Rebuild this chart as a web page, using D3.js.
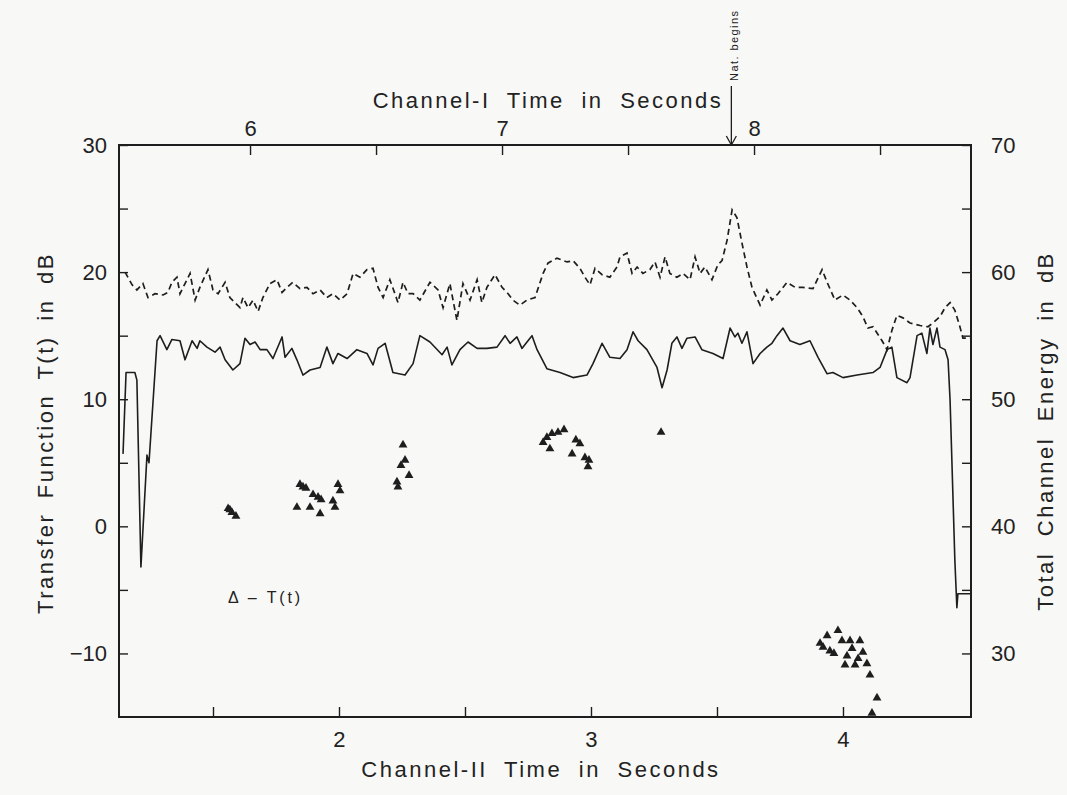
<!DOCTYPE html>
<html>
<head>
<meta charset="utf-8">
<script src="https://cdn.jsdelivr.net/npm/d3@7"></script>
<style>
  body { margin: 0; background: #f8f8f6; }
  svg { display: block; }
  text { font-family: "Liberation Sans", "DejaVu Sans", sans-serif; fill: #222; }
</style>
</head>
<body>
<div id="chart"></div>
<script>
// Channel-II time (s) vs total channel energy (dB), solid trace
var solidEnergy = [
  [1.143,45.7],[1.155,52.1],[1.190,52.1],[1.198,51.5],[1.214,36.8],[1.238,45.6],[1.246,45.0],
  [1.278,54.6],[1.290,55.0],[1.317,53.9],[1.337,54.7],[1.369,54.6],[1.389,53.1],[1.417,54.6],
  [1.437,54.0],[1.448,54.6],[1.476,54.1],[1.508,53.7],[1.528,54.1],[1.548,53.1],[1.579,52.3],
  [1.607,52.8],[1.627,54.8],[1.647,54.3],[1.667,54.5],[1.687,53.9],[1.714,53.9],[1.738,53.2],
  [1.774,54.9],[1.786,53.3],[1.813,54.0],[1.833,53.1],[1.857,51.9],[1.885,52.3],[1.925,52.5],
  [1.952,54.1],[1.976,52.8],[1.996,53.6],[2.032,53.2],[2.071,53.9],[2.111,53.6],[2.135,52.7],
  [2.155,54.0],[2.183,54.4],[2.214,52.1],[2.262,51.9],[2.294,52.8],[2.321,55.0],[2.361,54.5],
  [2.409,53.5],[2.429,54.1],[2.448,52.7],[2.480,53.9],[2.512,54.5],[2.548,54.0],[2.587,54.0],
  [2.627,54.1],[2.659,55.0],[2.679,54.4],[2.706,54.9],[2.726,54.0],[2.750,54.6],[2.766,55.0],
  [2.786,53.9],[2.825,52.4],[2.877,52.1],[2.929,51.7],[2.984,51.9],[3.008,52.8],[3.044,54.4],
  [3.075,53.3],[3.115,53.2],[3.143,53.9],[3.167,55.3],[3.187,54.6],[3.222,53.9],[3.262,52.5],
  [3.282,50.9],[3.302,52.3],[3.321,54.4],[3.341,54.9],[3.361,54.0],[3.381,54.8],[3.413,54.9],
  [3.440,53.9],[3.484,53.6],[3.524,53.2],[3.552,55.6],[3.571,54.9],[3.583,55.2],[3.599,54.4],
  [3.619,55.3],[3.643,52.8],[3.671,53.6],[3.698,54.1],[3.718,54.4],[3.738,55.0],[3.762,55.6],
  [3.790,54.6],[3.829,54.3],[3.869,54.6],[3.901,53.3],[3.937,52.0],[3.960,52.1],[4.000,51.7],
  [4.056,51.9],[4.119,52.1],[4.147,52.5],[4.175,53.9],[4.194,54.1],[4.214,51.7],[4.254,51.3],
  [4.266,51.7],[4.294,55.0],[4.313,55.2],[4.333,53.6],[4.345,55.6],[4.357,54.3],[4.373,55.6],
  [4.385,54.1],[4.405,53.9],[4.417,53.1],[4.425,49.9],[4.444,37.3],[4.452,33.6],[4.456,34.7],
  [4.504,34.7]
];

// Channel-II time (s) vs total channel energy (dB), dashed trace
var dashedEnergy = [
  [1.151,60.0],[1.179,59.0],[1.198,58.6],[1.222,59.1],[1.242,58.0],[1.270,58.3],[1.302,58.2],
  [1.321,58.4],[1.337,59.2],[1.357,59.6],[1.369,58.3],[1.389,59.1],[1.409,59.9],[1.429,57.8],
  [1.448,58.8],[1.480,60.2],[1.500,58.6],[1.520,58.3],[1.548,59.2],[1.567,58.0],[1.587,57.6],
  [1.607,57.2],[1.619,58.0],[1.639,57.2],[1.659,57.8],[1.679,56.9],[1.698,58.0],[1.726,59.1],
  [1.754,59.4],[1.774,58.4],[1.794,58.8],[1.817,59.2],[1.845,58.7],[1.873,58.8],[1.897,58.3],
  [1.925,58.6],[1.952,58.0],[1.976,58.3],[2.004,57.8],[2.032,58.3],[2.056,59.9],[2.083,59.6],
  [2.111,60.2],[2.135,60.3],[2.155,58.8],[2.175,58.0],[2.202,59.4],[2.222,58.3],[2.234,57.6],
  [2.254,59.2],[2.274,58.3],[2.294,58.3],[2.321,57.8],[2.361,59.2],[2.393,58.6],[2.413,57.2],
  [2.440,59.1],[2.468,56.2],[2.492,59.1],[2.520,57.8],[2.548,59.4],[2.567,57.6],[2.587,58.8],
  [2.619,59.8],[2.647,58.8],[2.671,58.3],[2.690,57.8],[2.718,57.4],[2.746,57.8],[2.778,58.0],
  [2.810,59.9],[2.829,60.7],[2.865,61.1],[2.905,60.8],[2.929,60.9],[2.956,60.3],[2.976,59.6],
  [2.996,59.0],[3.016,60.3],[3.044,59.8],[3.075,59.6],[3.103,60.4],[3.115,61.2],[3.143,61.5],
  [3.163,59.9],[3.183,60.4],[3.206,59.9],[3.234,60.2],[3.254,60.8],[3.274,59.6],[3.294,61.2],
  [3.313,59.9],[3.341,59.6],[3.365,59.9],[3.393,59.4],[3.413,61.2],[3.433,59.9],[3.452,60.4],
  [3.480,59.4],[3.504,60.6],[3.520,60.9],[3.540,62.5],[3.560,64.9],[3.579,64.3],[3.599,62.3],
  [3.619,60.4],[3.639,58.8],[3.671,57.4],[3.698,58.6],[3.718,57.8],[3.742,58.3],[3.778,59.2],
  [3.810,58.8],[3.841,58.8],[3.881,58.7],[3.917,60.2],[3.937,59.2],[3.968,57.8],[4.000,58.2],
  [4.028,57.8],[4.056,57.2],[4.079,56.5],[4.099,55.6],[4.119,55.7],[4.155,54.6],[4.175,53.9],
  [4.194,55.4],[4.214,56.6],[4.238,56.4],[4.266,56.0],[4.306,55.8],[4.337,55.7],[4.357,56.0],
  [4.385,56.5],[4.405,57.2],[4.425,57.6],[4.444,57.0],[4.464,55.7],[4.476,54.8],[4.504,54.8]
];

// Channel-II time (s) vs transfer function T(t) (dB), triangles
var transferT = [
  [1.560,1.4],[1.567,1.3],[1.575,1.1],[1.591,0.8],
  [1.845,3.3],[1.857,3.1],[1.869,3.0],[1.833,1.5],[1.885,1.5],[1.897,2.5],[1.917,2.3],
  [1.929,2.1],[1.925,1.0],[1.976,2.0],[1.984,1.5],[1.996,3.3],[2.004,2.8],
  [2.254,6.4],[2.262,5.2],[2.246,4.8],[2.278,4.0],[2.230,3.5],[2.234,3.1],
  [2.810,6.6],[2.825,7.0],[2.845,7.3],[2.869,7.4],[2.893,7.6],[2.837,6.1],[2.940,6.8],
  [2.956,6.5],[2.925,5.7],[2.976,5.4],[2.992,5.2],[2.988,4.7],
  [3.278,7.4],
  [3.937,-8.6],[3.909,-9.2],[3.921,-9.5],[3.948,-9.8],[3.964,-10.0],[3.980,-8.2],[3.996,-9.0],
  [4.028,-9.0],[4.067,-9.0],[4.036,-9.6],[4.016,-10.2],[4.008,-10.9],[4.048,-10.9],[4.060,-10.4],
  [4.079,-9.9],[4.095,-10.8],[4.107,-11.7],[4.135,-13.5],[4.115,-14.7]
];

var bottomDomain = [1.127, 4.508];
var channelOffset = 4.353;          // Channel-I time = Channel-II time + offset
var leftDomain = [-15, 30];
var rightDomain = [25, 70];
var bottomTicks = [1.5, 2, 2.5, 3, 3.5, 4];
var topTicks = [6, 6.5, 7, 7.5, 8, 8.5];
var leftTicks = [-10, -5, 0, 5, 10, 15, 20, 25];
var rightTicks = [30, 35, 40, 45, 50, 55, 60, 65];
var natBegins = 7.91;   // Channel-I time where "Nat. begins"

var width = 1067, height = 795;
var margin = {left: 119, right: 1067 - 971, top: 145, bottom: 795 - 717};
var W = width - margin.left - margin.right, H = height - margin.top - margin.bottom;

var svg = d3.select("#chart").append("svg")
  .attr("width", width).attr("height", height);

var g = svg.append("g").attr("transform", "translate(" + margin.left + "," + margin.top + ")");

var x = d3.scaleLinear().domain(bottomDomain).range([0, W]);
var xTop = d3.scaleLinear().domain([bottomDomain[0] + channelOffset, bottomDomain[1] + channelOffset]).range([0, W]);
var yL = d3.scaleLinear().domain(leftDomain).range([H, 0]);
var yR = d3.scaleLinear().domain(rightDomain).range([H, 0]);

var ink = "#1e1e1e";

function styleAxis(sel) {
  sel.select(".domain").remove();
  sel.selectAll(".tick line").attr("stroke", ink).attr("stroke-width", 1.4);
  sel.selectAll(".tick text").style("font-size", "22px").attr("fill", ink);
}

function labelEvery(step) {
  return function(d) { return Math.abs(d % step) < 1e-9 ? d3.format("d")(d).replace("-", "\u2212") : ""; };
}

g.append("g").attr("transform", "translate(0," + H + ")")
  .call(d3.axisBottom(x).tickValues(bottomTicks).tickSize(-10).tickPadding(14).tickFormat(labelEvery(1)))
  .call(styleAxis);

g.append("g")
  .call(d3.axisTop(xTop).tickValues(topTicks).tickSize(-10).tickPadding(9).tickFormat(labelEvery(1)))
  .call(styleAxis);

g.append("g")
  .call(d3.axisLeft(yL).tickValues(leftTicks.concat([30])).tickSize(-9).tickPadding(12).tickFormat(labelEvery(10)))
  .call(styleAxis);

g.append("g").attr("transform", "translate(" + W + ",0)")
  .call(d3.axisRight(yR).tickValues(rightTicks.concat([70])).tickSize(-9).tickPadding(20).tickFormat(labelEvery(10)))
  .call(styleAxis);

// frame
g.append("rect").attr("width", W).attr("height", H)
  .attr("fill", "none").attr("stroke", ink).attr("stroke-width", 2);

var lineR = d3.line()
  .x(function(d) { return x(d[0]); })
  .y(function(d) { return yR(d[1]); });

g.append("path").datum(dashedEnergy)
  .attr("d", lineR).attr("fill", "none")
  .attr("stroke", ink).attr("stroke-width", 1.7)
  .attr("stroke-dasharray", "6,4");

g.append("path").datum(solidEnergy)
  .attr("d", lineR).attr("fill", "none")
  .attr("stroke", ink).attr("stroke-width", 1.6)
  .attr("stroke-linejoin", "round");

g.selectAll("path.tri").data(transferT).enter().append("path")
  .attr("class", "tri")
  .attr("d", d3.symbol().type(d3.symbolTriangle).size(34))
  .attr("transform", function(d) { return "translate(" + x(d[0]) + "," + yL(d[1]) + ")"; })
  .attr("fill", ink);

// legend
g.append("text").attr("x", 228 - margin.left).attr("y", yL(-5.6))
  .attr("dy", "0.35em").style("font-size", "16px")
  .attr("textLength", 72).attr("lengthAdjust", "spacing")
  .text("\u0394 \u2013 T(t)");

// axis titles
function title(sel, ws) {
  sel.attr("text-anchor", "middle").attr("dy", "0.35em")
    .style("font-size", "22px").style("letter-spacing", "2.5px")
    .style("word-spacing", ws + "px");
}

svg.append("text").attr("x", 548).attr("y", 100)
  .call(title, 8).text("Channel-I Time in Seconds");

svg.append("text").attr("x", 541).attr("y", 769)
  .call(title, 8).text("Channel-II Time in Seconds");

svg.append("text").attr("transform", "translate(45,433) rotate(-90)")
  .call(title, 6).text("Transfer Function T(t) in dB");

svg.append("text").attr("transform", "translate(1045,431) rotate(-90)")
  .call(title, 7).text("Total Channel Energy in dB");

// "Nat. begins" arrow
var ax = margin.left + xTop(natBegins);
svg.append("line").attr("x1", ax).attr("x2", ax).attr("y1", 86).attr("y2", margin.top)
  .attr("stroke", ink).attr("stroke-width", 1.3);
svg.append("path")
  .attr("d", "M" + (ax - 5) + "," + (margin.top - 9) + "L" + ax + "," + margin.top + "L" + (ax + 5) + "," + (margin.top - 9))
  .attr("fill", "none").attr("stroke", ink).attr("stroke-width", 1.3);
svg.append("text").attr("transform", "translate(" + (ax + 3) + ",46) rotate(-90)").attr("dy", "0.35em")
  .attr("text-anchor", "middle").style("font-size", "11px")
  .attr("textLength", 70).attr("lengthAdjust", "spacing")
  .text("Nat. begins");
</script>
</body>
</html>
